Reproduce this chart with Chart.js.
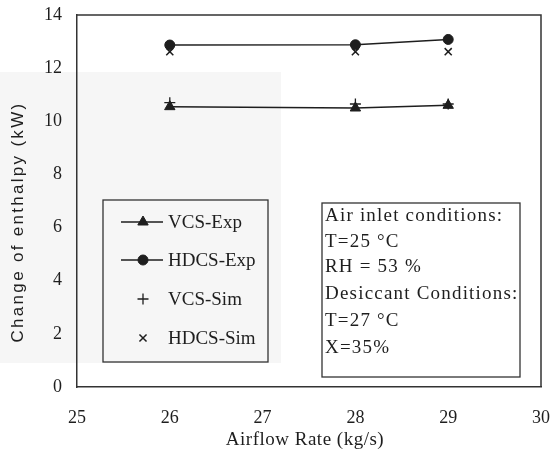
<!DOCTYPE html>
<html>
<head>
<meta charset="utf-8">
<script src="https://cdn.jsdelivr.net/npm/chart.js@4/dist/chart.umd.min.js"></script>
<style>
html,body{margin:0;padding:0;background:#fff;}
#wrap{width:550px;height:455px;position:relative;}
</style>
</head>
<body>
<div id="wrap"><canvas id="c" width="550" height="455"></canvas></div>
<script>
const airflow = [26, 28, 29];
const vcsExp = [10.55, 10.5, 10.6];
const hdcsExp = [12.87, 12.88, 13.08];
const vcsSim = [10.7, 10.65, 10.65];
const hdcsSim = [12.62, 12.62, 12.62];
const seriesNames = ['VCS-Exp', 'HDCS-Exp', 'VCS-Sim', 'HDCS-Sim'];
const noteLines = ['Air inlet conditions:', 'T=25 °C', 'RH = 53 %', 'Desiccant Conditions:', 'T=27 °C', 'X=35%'];
const xTitle = 'Airflow Rate (kg/s)';
const yTitle = 'Change of enthalpy (kW)';

const FONT = '"Liberation Serif", "Times New Roman", serif';
const SANS = '"Liberation Sans", Arial, sans-serif';
const INK = '#1e1e1e';

function pts(ys){ return airflow.map((x,i)=>({x:x,y:ys[i]})); }

const datasets = [
  {label:seriesNames[0], data:pts(vcsExp), showLine:true, borderColor:INK, backgroundColor:INK, borderWidth:1.5, pointStyle:'triangle', pointRadius:6, pointBorderWidth:1},
  {label:seriesNames[1], data:pts(hdcsExp), showLine:true, borderColor:INK, backgroundColor:INK, borderWidth:1.5, pointStyle:'circle', pointRadius:5, pointBorderWidth:1},
  {label:seriesNames[2], data:pts(vcsSim), showLine:false, borderColor:INK, backgroundColor:INK, pointStyle:'cross', pointRadius:5.5, pointBorderWidth:1.3},
  {label:seriesNames[3], data:pts(hdcsSim), showLine:false, borderColor:INK, backgroundColor:INK, pointStyle:'crossRot', pointRadius:5, pointBorderWidth:1.5}
];

const bgPlugin = {
  id:'bgScan',
  beforeDraw(chart){
    const ctx = chart.ctx;
    ctx.save();
    ctx.fillStyle = '#fff';
    ctx.fillRect(0,0,chart.width,chart.height);
    ctx.fillStyle = '#f6f6f6';
    ctx.fillRect(0,72,281,291);
    ctx.restore();
  }
};

const framePlugin = {
  id:'frame',
  afterDatasetsDraw(chart){
    const ctx = chart.ctx, a = chart.chartArea;
    ctx.save();
    ctx.strokeStyle = '#333';
    ctx.lineWidth = 1.5;
    ctx.beginPath();
    ctx.moveTo(a.left, a.top); ctx.lineTo(a.right, a.top); ctx.lineTo(a.right, a.bottom);
    ctx.stroke();
    ctx.restore();
  }
};

const titlesPlugin = {
  id:'titles',
  afterDraw(chart){
    const ctx = chart.ctx, a = chart.chartArea;
    ctx.save();
    ctx.fillStyle = INK;
    ctx.textAlign = 'center';
    ctx.textBaseline = 'middle';
    ctx.font = '19px ' + FONT;
    ctx.letterSpacing = '0.5px';
    ctx.fillText(xTitle, (a.left + a.right) / 2 - 4, 440);
    ctx.translate(18, 222);
    ctx.rotate(-Math.PI / 2);
    ctx.font = '17px ' + SANS;
    ctx.letterSpacing = '2.3px';
    ctx.fillText(yTitle, 0, 0);
    ctx.restore();
  }
};

const boxesPlugin = {
  id:'boxes',
  afterDraw(chart){
    const ctx = chart.ctx;
    ctx.save();
    const lx = 103, ly = 200, lw = 165, lh = 162;
    ctx.fillStyle = '#f6f6f6';
    ctx.fillRect(lx, ly, lw, lh);
    ctx.strokeStyle = '#333'; ctx.lineWidth = 1.3;
    ctx.strokeRect(lx, ly, lw, lh);
    const rows = [222, 260, 299, 338];
    ctx.font = '19px ' + FONT;
    ctx.textBaseline = 'middle';
    chart.data.datasets.forEach((ds, i) => {
      const y = rows[i];
      if (ds.showLine) {
        ctx.strokeStyle = INK; ctx.lineWidth = 1.5;
        ctx.beginPath(); ctx.moveTo(121, y); ctx.lineTo(163, y); ctx.stroke();
      }
      ctx.fillStyle = INK; ctx.strokeStyle = INK;
      ctx.lineWidth = ds.pointBorderWidth;
      Chart.helpers.drawPoint(ctx, {pointStyle: ds.pointStyle, radius: ds.pointRadius, rotation: 0, borderWidth: ds.pointBorderWidth}, 143, y);
      ctx.fillStyle = INK;
      ctx.textAlign = 'left';
      ctx.fillText(ds.label, 168, y + 1);
    });
    const nx = 322, ny = 203, nw = 198, nh = 174;
    ctx.fillStyle = '#fff';
    ctx.fillRect(nx, ny, nw, nh);
    ctx.strokeStyle = '#333'; ctx.lineWidth = 1.3;
    ctx.strokeRect(nx, ny, nw, nh);
    ctx.fillStyle = INK;
    ctx.font = '19px ' + FONT;
    ctx.letterSpacing = '1.2px';
    const ny0 = [216, 242, 267, 294, 321, 348];
    noteLines.forEach((t, i) => ctx.fillText(t, 325, ny0[i]));
    ctx.restore();
  }
};

new Chart(document.getElementById('c'), {
  type:'scatter',
  data:{datasets:datasets},
  plugins:[bgPlugin, framePlugin, titlesPlugin, boxesPlugin],
  options:{
    responsive:false,
    animation:false,
    devicePixelRatio:1,
    layout:{padding:{top:15, right:9, left:0, bottom:0}},
    plugins:{legend:{display:false}, tooltip:{enabled:false}},
    scales:{
      x:{
        type:'linear', min:25, max:30,
        ticks:{stepSize:1, color:INK, font:{family:FONT, size:18}, padding:15, maxRotation:0},
        grid:{display:false, drawOnChartArea:false, drawTicks:true, tickLength:5, color:'#333'},
        border:{display:true, color:'#333', width:1.5},
        title:{display:false},
        afterFit(s){ s.height = 68; s.paddingLeft = 0; s.paddingRight = 0; }
      },
      y:{
        min:0, max:14,
        ticks:{stepSize:2, color:INK, font:{family:FONT, size:18}, padding:10},
        grid:{display:false, drawOnChartArea:false, drawTicks:true, tickLength:5, color:'#333'},
        border:{display:true, color:'#333', width:1.5},
        title:{display:false},
        afterFit(s){ s.width = 77; s.paddingTop = 0; s.paddingBottom = 0; }
      }
    }
  }
});
</script>
</body>
</html>
